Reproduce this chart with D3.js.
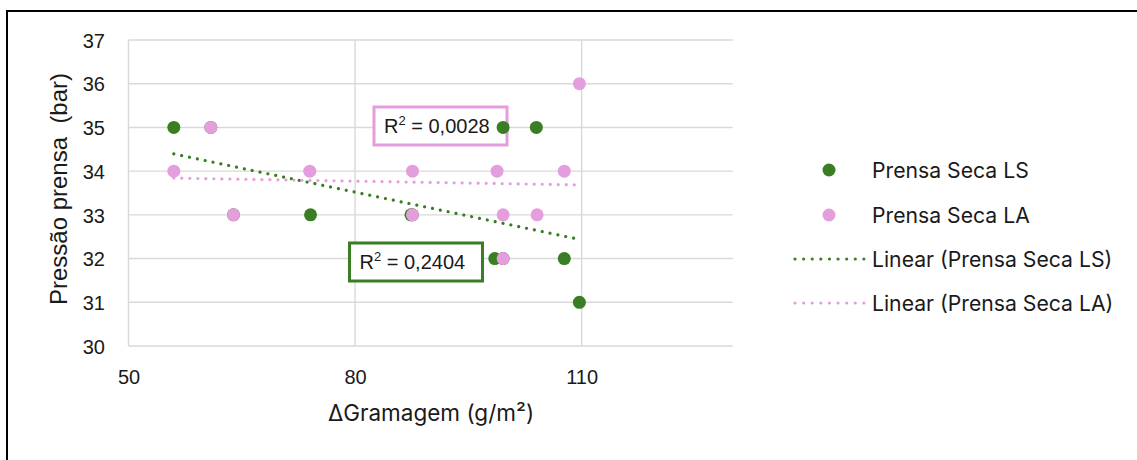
<!DOCTYPE html>
<html>
<head>
<meta charset="utf-8">
<script src="https://cdn.jsdelivr.net/npm/d3@7"></script>
<style>
  html, body { margin: 0; padding: 0; background: #fff; }
  svg { display: block; }
</style>
</head>
<body>
<svg id="chart" width="1137" height="460"></svg>
<script>
// ΔGramagem (g/m²) and press pressure (bar) for the two dry-press series
const xLS = [56, 60.9, 63.9, 74.1, 87.4, 87.6, 98.5, 99.6, 99.6, 104, 107.7, 109.7];
const yLS = [35, 35, 33, 33, 33, 33, 32, 35, 32, 35, 32, 31];
const xLA = [56, 60.9, 63.9, 74, 87.6, 87.6, 98.8, 99.6, 99.6, 104.1, 107.7, 109.7];
const yLA = [34, 35, 33, 34, 34, 33, 34, 33, 32, 33, 34, 36];

const xTicks = [50, 80, 110];
const yTicks = [30, 31, 32, 33, 34, 35, 36, 37];

const seriesNames = ["Prensa Seca LS", "Prensa Seca LA"];
const trendNames = ["Linear (Prensa Seca LS)", "Linear (Prensa Seca LA)"];
const r2Labels = ["0,2404", "0,0028"];

const GREEN = "#3a7d22";
const PINK = "#e59edd";
const GRID = "#d9d9d9";
const TICK_FONT = "'Liberation Sans', Arial, sans-serif";
const LABEL_FONT = "Inter, 'Liberation Sans', sans-serif";

const svg = d3.select("#chart");

// outer chart frame
svg.append("rect")
  .attr("x", 7).attr("y", 11)
  .attr("width", 1200).attr("height", 500)
  .attr("fill", "#fff").attr("stroke", "#000").attr("stroke-width", 2);

const x = d3.scaleLinear().domain([50, 130]).range([128.5, 732.7]);
const y = d3.scaleLinear().domain([30, 37]).range([346, 40]);

// gridlines
const grid = svg.append("g");
grid.selectAll("line.h").data(yTicks).join("line")
  .attr("x1", x(50)).attr("x2", x(130))
  .attr("y1", d => y(d)).attr("y2", d => y(d))
  .attr("stroke", GRID).attr("stroke-width", 1.4);
grid.selectAll("line.v").data(xTicks).join("line")
  .attr("x1", d => x(d)).attr("x2", d => x(d))
  .attr("y1", y(37)).attr("y2", y(30))
  .attr("stroke", GRID).attr("stroke-width", 1.4);

// y axis tick labels
const yAxis = d3.axisLeft(y).tickValues(yTicks).tickFormat(d3.format("d")).tickSize(0).tickPadding(0);
const gy = svg.append("g").attr("transform", "translate(105,0)").call(yAxis);
gy.select(".domain").remove();
gy.selectAll("text")
  .attr("font-family", TICK_FONT).attr("font-size", 20).attr("fill", "#1a1a1a")
  .attr("dy", "0.36em").attr("text-anchor", "end");

// x axis tick labels
const xAxis = d3.axisBottom(x).tickValues(xTicks).tickFormat(d3.format("d")).tickSize(0).tickPadding(0);
const gx = svg.append("g").attr("transform", "translate(0,377)").call(xAxis);
gx.select(".domain").remove();
gx.selectAll("text")
  .attr("font-family", TICK_FONT).attr("font-size", 20).attr("fill", "#1a1a1a")
  .attr("y", 0).attr("dy", "0.36em");

// axis titles
svg.append("text")
  .attr("transform", "translate(67,189) rotate(-90)")
  .attr("text-anchor", "middle")
  .attr("font-family", TICK_FONT).attr("font-size", 24).attr("fill", "#1a1a1a")
  .attr("xml:space", "preserve")
  .text("Pressão prensa  (bar)");

svg.append("text")
  .attr("x", 431).attr("y", 421)
  .attr("text-anchor", "middle")
  .attr("font-family", LABEL_FONT).attr("font-size", 22.5).attr("fill", "#1a1a1a")
  .text("ΔGramagem (g/m²)");

// least-squares trend line
function linearFit(xs, ys) {
  const n = xs.length;
  const mx = d3.mean(xs), my = d3.mean(ys);
  let sxy = 0, sxx = 0;
  for (let i = 0; i < n; i++) {
    sxy += (xs[i] - mx) * (ys[i] - my);
    sxx += (xs[i] - mx) ** 2;
  }
  const slope = sxy / sxx;
  const intercept = my - slope * mx;
  const [x0, x1] = d3.extent(xs);
  return [[x0, intercept + slope * x0], [x1, intercept + slope * x1]];
}

// R² labels
function r2Box(bx, by, w, h, color, value) {
  const g = svg.append("g");
  g.append("rect").attr("x", bx).attr("y", by).attr("width", w).attr("height", h)
    .attr("fill", "#fff").attr("stroke", color).attr("stroke-width", 3);
  const t = g.append("text").attr("x", bx + 10).attr("y", by + h / 2 + 7)
    .attr("font-family", TICK_FONT).attr("font-size", 20).attr("fill", "#1a1a1a");
  t.append("tspan").text("R");
  t.append("tspan").attr("font-size", 13).attr("dy", -8).text("2");
  t.append("tspan").attr("dy", 8).text(" = " + value);
}
r2Box(374, 107, 133, 38, PINK, r2Labels[1]);
r2Box(349.5, 243, 133, 38, GREEN, r2Labels[0]);

// scatter points (LS beneath LA)
const series = [
  { xs: xLS, ys: yLS, color: GREEN },
  { xs: xLA, ys: yLA, color: PINK }
];
series.forEach(s => {
  svg.append("g").selectAll("circle")
    .data(s.xs.map((v, i) => [v, s.ys[i]]))
    .join("circle")
    .attr("cx", d => x(d[0])).attr("cy", d => y(d[1]))
    .attr("r", 6.5).attr("fill", s.color);
});

// dotted trend lines
const line = d3.line().x(d => x(d[0])).y(d => y(d[1]));
series.forEach(s => {
  svg.append("path")
    .attr("d", line(linearFit(s.xs, s.ys)))
    .attr("fill", "none").attr("stroke", s.color)
    .attr("stroke-width", 3.2).attr("stroke-linecap", "round")
    .attr("stroke-dasharray", "0.01 8");
});

// legend
const legend = svg.append("g");
const rows = [
  { type: "dot", color: GREEN, label: seriesNames[0], y: 170 },
  { type: "dot", color: PINK, label: seriesNames[1], y: 215 },
  { type: "line", color: GREEN, label: trendNames[0], y: 259 },
  { type: "line", color: PINK, label: trendNames[1], y: 303 }
];
rows.forEach(r => {
  if (r.type === "dot") {
    legend.append("circle").attr("cx", 829).attr("cy", r.y).attr("r", 6.5).attr("fill", r.color);
  } else {
    legend.append("line").attr("x1", 795).attr("x2", 864).attr("y1", r.y).attr("y2", r.y)
      .attr("stroke", r.color).attr("stroke-width", 3.2).attr("stroke-linecap", "round")
      .attr("stroke-dasharray", "0.01 8.6");
  }
  legend.append("text").attr("x", 872).attr("y", r.y).attr("dy", "0.36em")
    .attr("font-family", LABEL_FONT).attr("font-size", 21.2).attr("fill", "#1a1a1a")
    .text(r.label);
});
</script>
</body>
</html>
